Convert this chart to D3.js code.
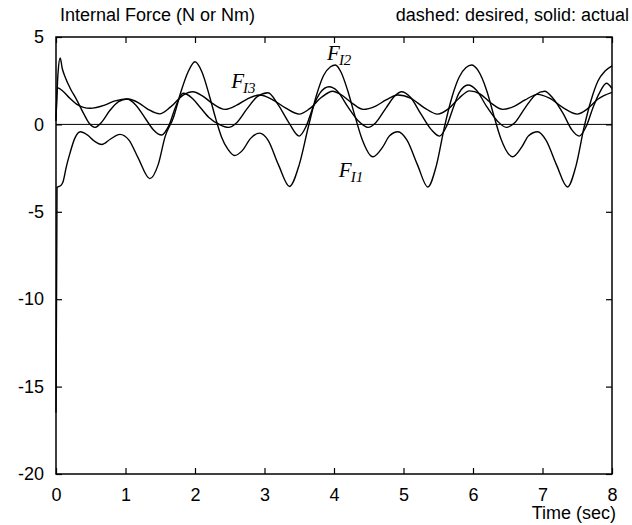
<!DOCTYPE html>
<html>
<head>
<meta charset="utf-8">
<script src="https://cdn.jsdelivr.net/npm/d3@7"></script>
<style>
  body { margin: 0; background: #fff; }
  svg { display: block; }
  .lbl { font-family: "Liberation Sans", Arial, sans-serif; font-size: 18px; fill: #000; }
  .flab { font-family: "Liberation Serif", "Times New Roman", serif; font-style: italic; fill: #000; }
</style>
</head>
<body>
<svg id="chart" width="632" height="525"></svg>
<script>
// ---- data ----
const xTicks = [0, 1, 2, 3, 4, 5, 6, 7, 8];
const yTicks = [5, 0, -5, -10, -15, -20];
const titleLeft = "Internal Force (N or Nm)";
const titleRight = "dashed: desired, solid: actual";
const xLabel = "Time (sec)";

// F_I1 : time (s), force
const fI1T = [0, 0.015, 0.07, 0.10, 0.15, 0.20, 0.27, 0.35, 0.45, 0.55, 0.66, 0.78, 0.92, 1.05, 1.18, 1.35, 1.47, 1.57, 1.69, 1.8, 1.9, 2.0,
  2.1, 2.21, 2.3, 2.38, 2.47, 2.57, 2.68, 2.8, 2.93, 3.05, 3.2, 3.36, 3.5, 3.63, 3.75, 3.85, 3.95, 4.02,
  4.1, 4.2, 4.3, 4.4, 4.56, 4.7, 4.8, 4.92, 5.05, 5.2, 5.35, 5.47, 5.59, 5.7, 5.8, 5.9, 5.98,
  6.07, 6.2, 6.3, 6.4, 6.57, 6.7, 6.8, 6.93, 7.05, 7.2, 7.36, 7.48, 7.6, 7.7, 7.8, 7.9, 8.0];
const fI1V = [-16.5, -3.6, -3.5, -3.3, -2.4, -1.66, -0.8, -0.42, -0.6, -0.95, -1.15, -0.85, -0.57, -0.9, -1.9, -3.1, -2.3, -0.7, 0.4, 1.9, 3.0, 3.58,
  3.0, 1.6, 0.3, -0.7, -1.4, -1.78, -1.5, -0.8, -0.5, -0.9, -2.3, -3.55, -2.3, -0.15, 1.7, 2.8, 3.3, 3.4,
  3.0, 1.9, 0.5, -0.8, -1.85, -1.3, -0.65, -0.42, -0.9, -2.3, -3.58, -2.4, -0.13, 1.6, 2.7, 3.25, 3.4,
  3.1, 1.9, 0.5, -0.8, -1.85, -1.3, -0.65, -0.42, -0.9, -2.3, -3.58, -2.4, -0.13, 1.4, 2.5, 3.05, 3.35];

// F_I2 : time (s), force
const fI2T = [0, 0.03, 0.06, 0.09, 0.13, 0.2, 0.3, 0.4, 0.48, 0.56, 0.65, 0.78, 0.9, 1.02, 1.15, 1.3, 1.4, 1.52, 1.62, 1.73, 1.83,
  1.96, 2.07, 2.2, 2.35, 2.48, 2.6, 2.75, 2.9, 3.05, 3.2, 3.35, 3.5, 3.6, 3.7, 3.8, 3.93,
  4.05, 4.2, 4.35, 4.49, 4.6, 4.75, 4.88, 4.97, 5.1, 5.25, 5.4, 5.52, 5.62, 5.72, 5.8, 5.93,
  6.05, 6.2, 6.35, 6.48, 6.6, 6.75, 6.9, 7.03, 7.15, 7.3, 7.42, 7.53, 7.63, 7.73, 7.82, 7.92, 8.0];
const fI2V = [0.3, 3.0, 3.8, 3.2, 2.73, 2.1, 1.39, 0.6, 0.05, -0.17, 0.1, 0.82, 1.3, 1.45, 1.1, 0.25, -0.3, -0.61, -0.1, 1.1, 1.78,
  1.5, 1.0, 0.4, 0.0, -0.17, 0.1, 0.9, 1.6, 1.81, 1.1, 0.1, -0.67, -0.1, 1.0, 1.8, 2.15,
  1.9, 1.0, 0.2, -0.17, 0.1, 0.95, 1.65, 1.87, 1.55, 0.6, -0.3, -0.67, -0.1, 1.0, 1.8, 2.25,
  1.95, 1.0, 0.2, -0.17, 0.1, 0.95, 1.7, 1.9, 1.5, 0.6, -0.3, -0.67, -0.1, 1.0, 1.8, 2.35, 2.05];

// F_I3 : time (s), force
const fI3T = [0, 0.02, 0.1, 0.2, 0.3, 0.49, 0.7, 0.85, 1.04, 1.2, 1.33, 1.49, 1.65, 1.83, 1.97,
  2.1, 2.25, 2.43, 2.6, 2.75, 2.93, 3.1, 3.3, 3.5, 3.65, 3.82, 3.98,
  4.1, 4.25, 4.42, 4.6, 4.75, 4.92, 5.1, 5.3, 5.49, 5.65, 5.8, 5.95,
  6.1, 6.25, 6.43, 6.6, 6.75, 6.93, 7.1, 7.3, 7.5, 7.65, 7.8, 8.0];
const fI3V = [0.2, 2.1, 1.9, 1.49, 1.15, 0.92, 1.1, 1.35, 1.45, 1.2, 0.85, 0.6, 1.0, 1.68, 1.87,
  1.65, 1.2, 0.86, 1.1, 1.45, 1.68, 1.45, 0.95, 0.59, 0.9, 1.55, 1.9,
  1.7, 1.25, 0.86, 1.05, 1.4, 1.68, 1.5, 0.95, 0.59, 0.9, 1.5, 1.92,
  1.75, 1.25, 0.86, 1.05, 1.4, 1.72, 1.5, 0.95, 0.59, 0.9, 1.45, 1.83];

const seriesLabels = [
  { name: "F", sub: "I1", t: 4.07, v: -3.0 },
  { name: "F", sub: "I2", t: 3.9, v: 3.7 },
  { name: "F", sub: "I3", t: 2.52, v: 2.1 }
];

// ---- chart ----
const svg = d3.select("#chart");
const x = d3.scaleLinear().domain([0, 8]).range([56, 612]);
const y = d3.scaleLinear().domain([-20, 5]).range([474, 37]);

const g = svg.append("g");

// zero reference line
g.append("line")
  .attr("x1", x(0)).attr("x2", x(8))
  .attr("y1", y(0)).attr("y2", y(0))
  .attr("stroke", "#000").attr("stroke-width", 1);

const line = d3.line().x(d => x(d[0])).y(d => y(d[1])).curve(d3.curveMonotoneX);
const series = [
  d3.zip(fI1T, fI1V),
  d3.zip(fI2T, fI2V),
  d3.zip(fI3T, fI3V)
];
g.selectAll("path.s").data(series).enter().append("path")
  .attr("class", "s")
  .attr("d", line)
  .attr("fill", "none")
  .attr("stroke", "#000")
  .attr("stroke-width", 1.4);

// frame
g.append("rect")
  .attr("x", x(0)).attr("y", y(5))
  .attr("width", x(8) - x(0)).attr("height", y(-20) - y(5))
  .attr("fill", "none").attr("stroke", "#000").attr("stroke-width", 1.5);

// axes with inward ticks
const tl = 6;
const fmt = d => String(d);   // plain hyphen-minus as in the reference
const axB = d3.axisBottom(x).tickValues(xTicks).tickSize(-tl).tickPadding(14).tickFormat(fmt);
const axT = d3.axisTop(x).tickValues(xTicks).tickSize(-tl).tickFormat("");
const axL = d3.axisLeft(y).tickValues(yTicks).tickSize(-tl).tickPadding(12).tickFormat(fmt);
const axR = d3.axisRight(y).tickValues(yTicks).tickSize(-tl).tickFormat("");

function style(sel) {
  sel.select(".domain").remove();
  sel.selectAll(".tick line").attr("stroke", "#000").attr("stroke-width", 1.2);
  sel.selectAll(".tick text").attr("fill", "#000")
    .style("font-family", "'Liberation Sans', Arial, sans-serif").style("font-size", "18px");
}
svg.append("g").attr("transform", `translate(0,${y(-20)})`).call(axB).call(style);
svg.append("g").attr("transform", `translate(0,${y(5)})`).call(axT).call(style);
svg.append("g").attr("transform", `translate(${x(0)},0)`).call(axL).call(style);
svg.append("g").attr("transform", `translate(${x(8)},0)`).call(axR).call(style);

// titles
svg.append("text").attr("class", "lbl").attr("x", 60).attr("y", 21).text(titleLeft);
svg.append("text").attr("class", "lbl").attr("x", 629).attr("y", 21).attr("text-anchor", "end").text(titleRight);
svg.append("text").attr("class", "lbl").attr("x", 616).attr("y", 519).attr("text-anchor", "end").text(xLabel);

// series labels
const fl = svg.selectAll("text.flab").data(seriesLabels).enter().append("text")
  .attr("class", "flab")
  .attr("x", d => x(d.t)).attr("y", d => y(d.v));
fl.append("tspan").style("font-size", "21px").text(d => d.name);
fl.append("tspan").style("font-size", "15px").attr("dy", 5).attr("dx", -1).text(d => d.sub);
</script>
</body>
</html>
